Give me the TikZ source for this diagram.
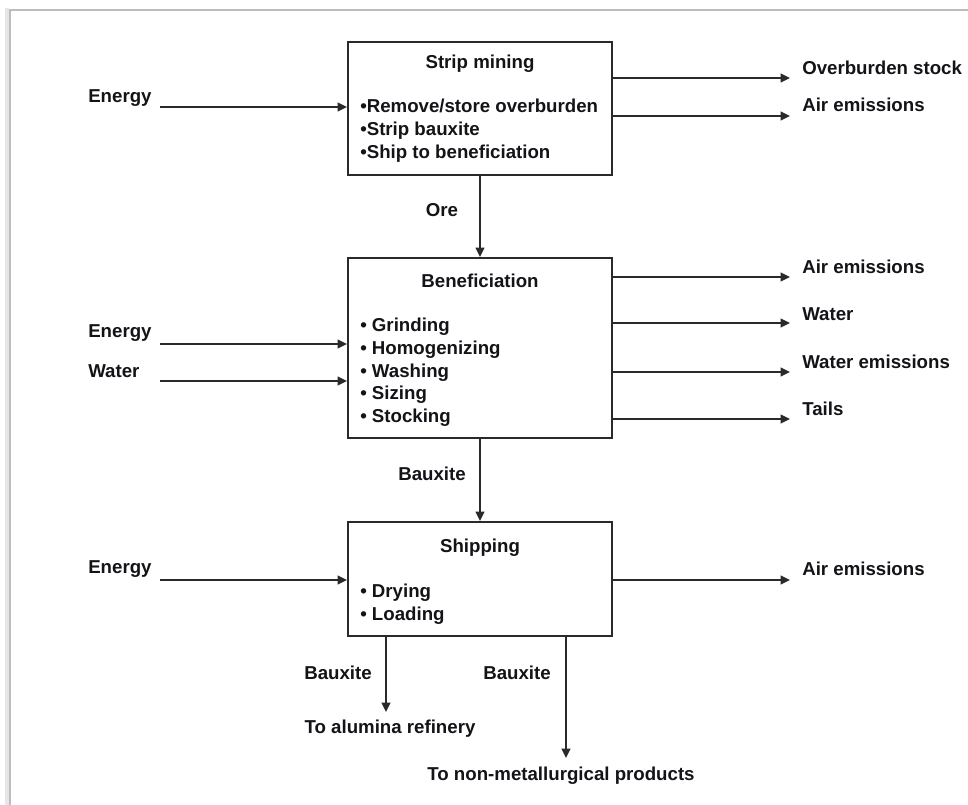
\documentclass[tikz,border=0pt]{standalone}
\usepackage{fontspec}
\setmainfont{Liberation Sans}
\usetikzlibrary{arrows.meta,positioning,calc}
\definecolor{FlowInk}{HTML}{141418}
\definecolor{FlowLine}{HTML}{2A2A2A}
\definecolor{FrameGray}{HTML}{BDBDBD}
\definecolor{FrameShade}{HTML}{E6E6E6}
\tikzset{
  stagebox/.style={draw=FlowLine,line width=1.6pt,minimum width=198pt,inner sep=0pt},
  stagetitle/.style={text=FlowInk,font=\fontsize{14}{17}\selectfont\bfseries,inner sep=0pt},
  stagelist/.style={text=FlowInk,font=\fontsize{14}{17}\selectfont\bfseries,align=left,anchor=north west,inner sep=0pt},
  flowlabel/.style={text=FlowInk,font=\fontsize{14}{17}\selectfont\bfseries,inner sep=0pt},
  flowarrow/.style={-{Triangle[length=7pt,width=6.5pt]},line width=1.5pt,draw=FlowLine}
}
\begin{document}
\begin{tikzpicture}[x=0.75pt,y=-0.75pt]
\useasboundingbox (0,0) rectangle (968,805);
\fill[white] (0,0) rectangle (968,805);
\draw[FrameShade,line width=3pt] (7,805) -- (7,8);
\draw[FrameGray,line width=1.6pt] (10,805) -- (10,10) -- (968,10);
\node[stagebox,minimum height=99.75pt] (mine) at (480,108.5) {};
\node[stagebox,minimum height=135pt] (benef) at (480,348) {};
\node[stagebox,minimum height=85.5pt] (ship) at (480,579) {};
\node[stagetitle] (mineT) at (480,64) {Strip mining};
\node[stagelist] (mineL) at (360,99) {•Remove/store overburden\\•Strip bauxite\\•Ship to beneficiation};
\node[stagetitle] (benefT) at (480,281) {Beneficiation};
\node[stagelist] (benefL) at (360,318) {•\ Grinding\\•\ Homogenizing\\•\ Washing\\•\ Sizing\\•\ Stocking};
\node[stagetitle] (shipT) at (480,548) {Shipping};
\node[stagelist] (shipL) at (360,584) {•\ Drying\\•\ Loading};
\node[flowlabel,anchor=west] (inE1) at (88,98) {Energy};
\node[flowlabel,anchor=west] (inE2) at (88,333) {Energy};
\node[flowlabel,anchor=west] (inW) at (88,371) {Water};
\node[flowlabel,anchor=west] (inE3) at (88,569) {Energy};
\coordinate (e1) at (160,107);
\coordinate (e2) at (160,344);
\coordinate (w2) at (160,381);
\coordinate (e3) at (160,580);
\draw[flowarrow] (e1) -- (e1 -| mine.west);
\draw[flowarrow] (e2) -- (e2 -| benef.west);
\draw[flowarrow] (w2) -- (w2 -| benef.west);
\draw[flowarrow] (e3) -- (e3 -| ship.west);
\node[flowlabel,anchor=west] (outOS) at (802,68) {Overburden stock};
\node[flowlabel,anchor=west] (outA1) at (802,105) {Air emissions};
\node[flowlabel,anchor=west] (outA2) at (802,267) {Air emissions};
\node[flowlabel,anchor=west] (outW) at (802,314) {Water};
\node[flowlabel,anchor=west] (outWE) at (802,362) {Water emissions};
\node[flowlabel,anchor=west] (outT) at (802,409) {Tails};
\node[flowlabel,anchor=west] (outA3) at (802,569) {Air emissions};
\coordinate (o1) at (790,78);
\coordinate (o2) at (790,116);
\coordinate (o3) at (790,277);
\coordinate (o4) at (790,323);
\coordinate (o5) at (790,372);
\coordinate (o6) at (790,419);
\coordinate (o7) at (790,580);
\draw[flowarrow] (o1 -| mine.east) -- (o1);
\draw[flowarrow] (o2 -| mine.east) -- (o2);
\draw[flowarrow] (o3 -| benef.east) -- (o3);
\draw[flowarrow] (o4 -| benef.east) -- (o4);
\draw[flowarrow] (o5 -| benef.east) -- (o5);
\draw[flowarrow] (o6 -| benef.east) -- (o6);
\draw[flowarrow] (o7 -| ship.east) -- (o7);
\node[flowlabel] (ore) at (442,210) {Ore};
\node[flowlabel] (baux1) at (432,474) {Bauxite};
\draw[flowarrow] (mine.south) -- (benef.north);
\draw[flowarrow] (benef.south) -- (ship.north);
\node[flowlabel] (baux2) at (338,673) {Bauxite};
\node[flowlabel] (baux3) at (517,673) {Bauxite};
\node[flowlabel] (refin) at (390,729) {To alumina refinery};
\node[flowlabel] (nonmet) at (561,776) {To non-metallurgical products};
\coordinate (r1) at (386,712);
\coordinate (r2) at (566,758);
\draw[flowarrow] (r1 |- ship.south) -- (r1);
\draw[flowarrow] (r2 |- ship.south) -- (r2);
\end{tikzpicture}
\end{document}
